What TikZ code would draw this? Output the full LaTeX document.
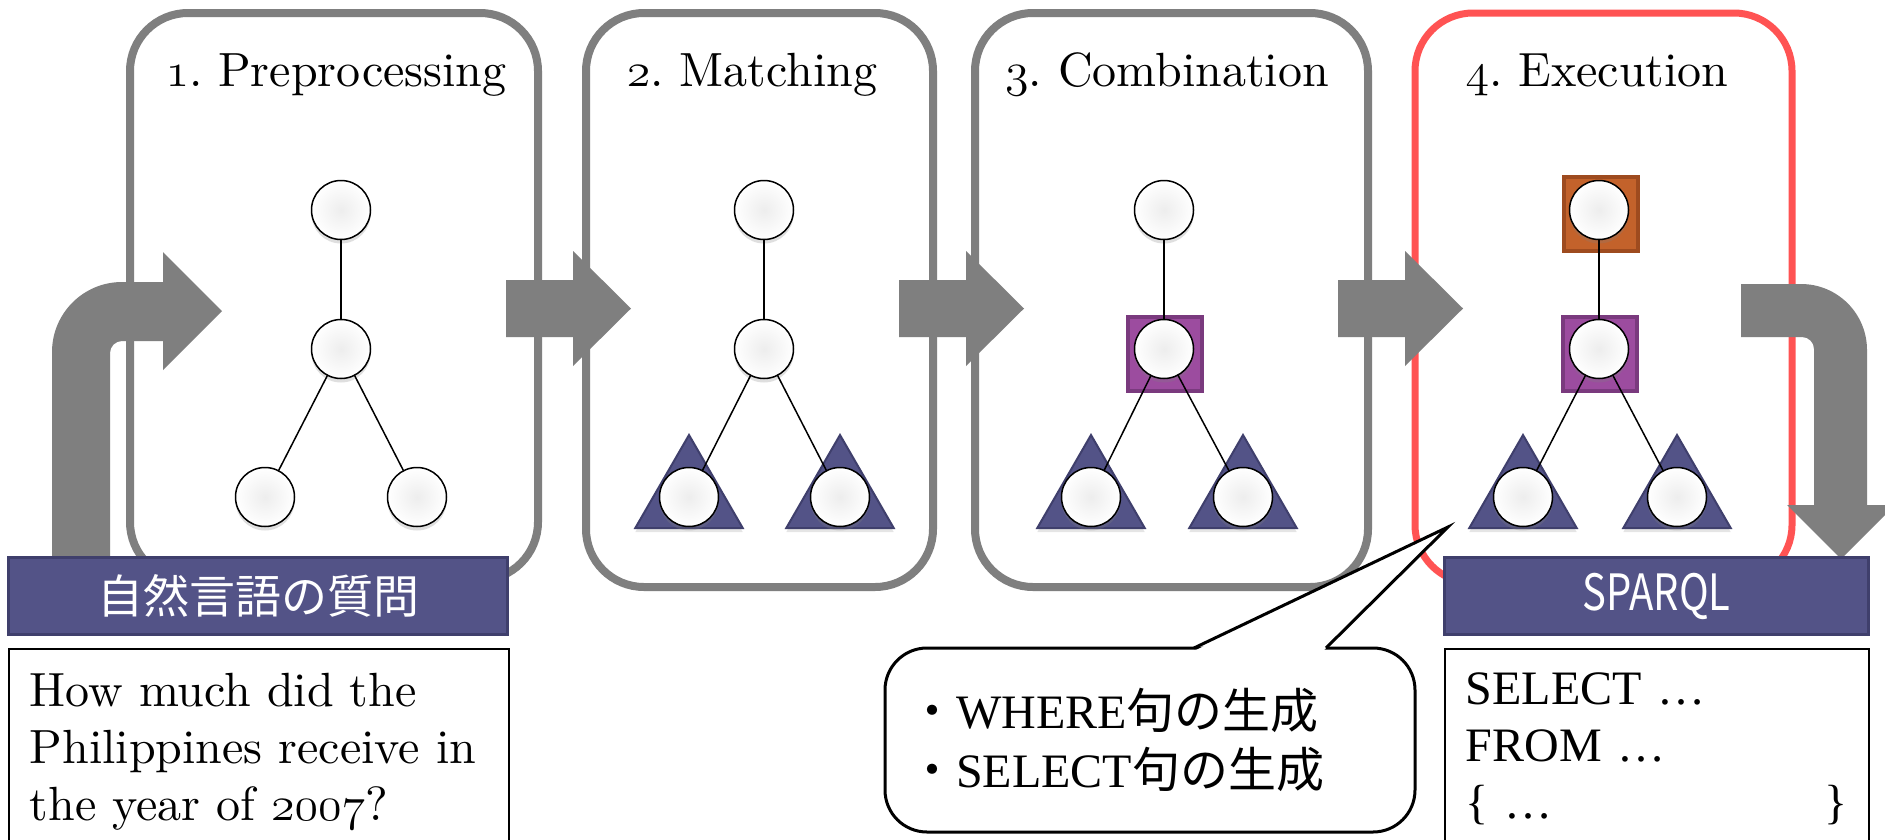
\RequirePackage{fix-cm}
\documentclass[tikz,border=0pt]{standalone}
\usepackage{fontspec}
\usepackage{tkz-graph}
\usetikzlibrary{shapes.geometric}
\usetikzlibrary{shadows}
\setmainfont{lmroman10-regular.otf}
\newfontfamily\jpfont{Noto Sans CJK JP}
\newfontfamily\tmfont{Liberation Serif}
\newcommand{\osn}[1]{$\mathnormal{#1}$}
\definecolor{panelgray}{HTML}{7F7F7F}
\definecolor{execred}{HTML}{FF5353}
\definecolor{barblue}{HTML}{535387}
\definecolor{barborder}{HTML}{3F3F6C}
\definecolor{orangefill}{HTML}{C3622B}
\definecolor{orangeline}{HTML}{9E4B1F}
\definecolor{purplefill}{HTML}{9C4C9F}
\definecolor{purpleline}{HTML}{7A3A7E}
\frenchspacing

\begin{document}
\begin{tikzpicture}[x=1pt, y=-1pt, font=\fontsize{48}{57}\selectfont]
	\tikzstyle{VertexStyle} = []
	\tikzstyle{EdgeStyle} = [line width = 1.5pt]
	\tikzstyle{plainStyle} = [shape = circle, minimum size = 59pt, inner sep = 0pt, draw, line width = 1.5pt, inner color = gray!14, outer color = white, drop shadow = {shadow xshift = 0pt, shadow yshift = -4pt, opacity = 0.25}]
	\tikzstyle{stepPanel} = [draw = panelgray, line width = 8pt, rounded corners = 58pt, fill = white, inner sep = 0pt]
	\tikzstyle{stepTitle} = [anchor = base, inner sep = 0pt]
	\tikzstyle{orangeBox} = [shape = rectangle, minimum size = 74pt, inner sep = 0pt, fill = orangefill, draw = orangeline, line width = 4pt]
	\tikzstyle{purpleBox} = [shape = rectangle, minimum size = 74pt, inner sep = 0pt, fill = purplefill, draw = purpleline, line width = 4pt]
	\tikzstyle{matchTri} = [regular polygon, regular polygon sides = 3, minimum size = 124pt, inner sep = 0pt, fill = barblue, draw = barborder, line width = 2pt, drop shadow = {shadow xshift = 0pt, shadow yshift = -4pt, opacity = 0.2}]
	\tikzstyle{flowArrow} = [fill = panelgray]
	\tikzstyle{labelBar} = [fill = barblue, draw = barborder, line width = 3pt, inner sep = 0pt, text = white, minimum height = 77pt]
	\tikzstyle{textBox} = [draw, line width = 1.5pt, anchor = north west, align = left, inner xsep = 21pt, inner ysep = 24pt]
	\tikzstyle{noteBox} = [draw, line width = 3pt, rounded corners = 42pt, fill = white, inner sep = 0pt, minimum width = 530pt, minimum height = 184pt]
	\tikzstyle{noteLine} = [anchor = base west, inner sep = 0pt]

	\useasboundingbox (0,0) rectangle (1885,839);
	\fill[white] (0,0) rectangle (1885,839);
	\clip (0,0) rectangle (1885,839);

	\node[stepPanel, minimum width = 408pt, minimum height = 567pt] (prep) at (334,296.5) {};
	\node[stepPanel, minimum width = 347pt, minimum height = 574pt] (match) at (759.5,300) {};
	\node[stepPanel, minimum width = 393pt, minimum height = 574pt] (comb) at (1171.5,300) {};
	\node[stepPanel, draw = execred, line width = 7pt, minimum width = 377pt, minimum height = 570pt] (exec) at (1603.5,298) {};

	\node[stepTitle] (prepTitle) at (336,86) {\osn{1}. Preprocessing};
	\node[stepTitle] (matchTitle) at (752,86) {\osn{2}. Matching};
	\node[stepTitle] (combTitle) at (1167,86) {\osn{3}. Combination};
	\node[stepTitle] (execTitle) at (1597,86) {\osn{4}. Execution};

	\node[purpleBox] (combSq) at (1165,354) {};
	\node[orangeBox] (execTop) at (1601,213.5) {};
	\node[purpleBox] (execSq) at (1600,353.5) {};
	\node[matchTri] (matchL) at (689,497) {};
	\node[matchTri] (matchR) at (840,497) {};
	\node[matchTri] (combL) at (1091,497) {};
	\node[matchTri] (combR) at (1243,497) {};
	\node[matchTri] (execL) at (1523,497) {};
	\node[matchTri] (execR) at (1677,497) {};

	\Vertex[style = plainStyle, x = 341, y = 210, NoLabel]{p1}
	\Vertex[style = plainStyle, x = 341, y = 349, NoLabel]{p2}
	\Vertex[style = plainStyle, x = 265, y = 497, NoLabel]{p3}
	\Vertex[style = plainStyle, x = 417, y = 497, NoLabel]{p4}
	\Vertex[style = plainStyle, x = 764, y = 210, NoLabel]{m1}
	\Vertex[style = plainStyle, x = 764, y = 349, NoLabel]{m2}
	\Vertex[style = plainStyle, x = 689, y = 497, NoLabel]{m3}
	\Vertex[style = plainStyle, x = 840, y = 497, NoLabel]{m4}
	\Vertex[style = plainStyle, x = 1164, y = 210, NoLabel]{c1}
	\Vertex[style = plainStyle, x = 1164, y = 349, NoLabel]{c2}
	\Vertex[style = plainStyle, x = 1091, y = 497, NoLabel]{c3}
	\Vertex[style = plainStyle, x = 1243, y = 497, NoLabel]{c4}
	\Vertex[style = plainStyle, x = 1599, y = 210, NoLabel]{e1}
	\Vertex[style = plainStyle, x = 1599, y = 349, NoLabel]{e2}
	\Vertex[style = plainStyle, x = 1523, y = 497, NoLabel]{e3}
	\Vertex[style = plainStyle, x = 1677, y = 497, NoLabel]{e4}
	\Edge(p1)(p2)
	\Edge(p2)(p3)
	\Edge(p2)(p4)
	\Edge(m1)(m2)
	\Edge(m2)(m3)
	\Edge(m2)(m4)
	\Edge(c1)(c2)
	\Edge(c2)(c3)
	\Edge(c2)(c4)
	\Edge(e1)(e2)
	\Edge(e2)(e3)
	\Edge(e2)(e4)

	% block arrows between the steps
	\foreach \ax in {506,899,1338}
		\fill[flowArrow] (\ax,280) -- ++(67,0) -- ++(0,-29) -- ++(58,57.5) -- ++(-58,57.5) -- ++(0,-29) -- ++(-67,0) -- cycle;
	\fill[flowArrow] (52,557) -- (52,352) arc[start angle = 180, end angle = 270, radius = 70] -- (163,282) -- (163,252) -- (222,311) -- (163,370) -- (163,341) -- (122,341) arc[start angle = 270, end angle = 180, radius = 12] -- (110,557) -- cycle;
	\fill[flowArrow] (1741,284) -- (1801,284) arc[start angle = 270, end angle = 360, radius = 66] -- (1867,505) -- (1895,505) -- (1841,559) -- (1787,505) -- (1814,505) -- (1814,349) arc[start angle = 0, end angle = -90, radius = 12] -- (1741,337) -- cycle;

	\node[labelBar, minimum width = 499pt] (nlBar) at (258,596) {\fontsize{46}{46}\jpfont 自然言語の質問};
	\node[labelBar, minimum width = 424pt] (sparqlBar) at (1656.5,596) {\fontsize{50}{50}\jpfont\scalebox{0.8}[1]{SPARQL}};
	\node[textBox, text width = 458pt] (question) at (8,648) {How much did the\\Philippines receive in\\the year of \osn{2007}?};
	\node[textBox, text width = 382pt] (query) at (1444,648) {\tmfont SELECT …\\FROM …\\\{ …\hfill\}};

	\node[noteBox] (note) at (1150,740) {};
	\coordinate (noteTip) at (1448,527);
	\fill[white] (1196,650) -- (noteTip) -- (1324,650) -- cycle;
	\draw[line width = 3pt] (1194,648) -- (noteTip) -- (1326,648);
	\node[noteLine] (whereLine) at (908,728) {{\jpfont ・}{\tmfont WHERE}{\jpfont 句の生成}};
	\node[noteLine] (selectLine) at (908,787) {{\jpfont ・}{\tmfont SELECT}{\jpfont 句の生成}};
\end{tikzpicture}
\end{document}
